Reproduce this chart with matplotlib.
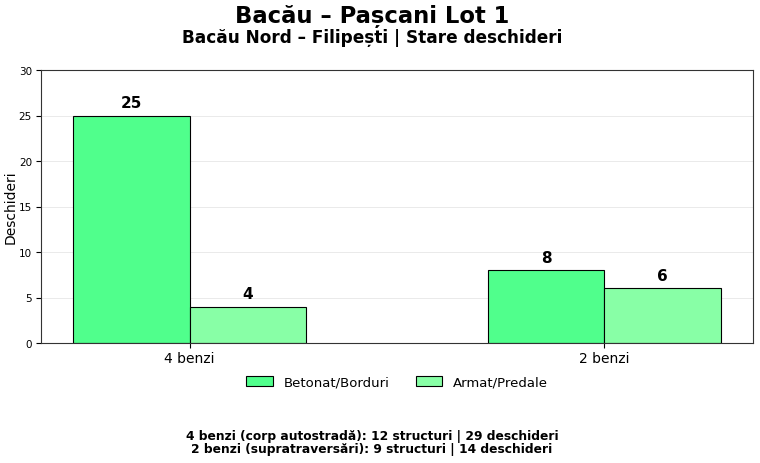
import matplotlib
matplotlib.use("Agg")
import matplotlib.pyplot as plt
import numpy as np

categories = ["4 benzi", "2 benzi"]
series_names = ["Betonat/Borduri", "Armat/Predale"]
betonat = [25, 8]
armat = [4, 6]
colors = ["#50FF8C", "#88FFA6"]
title = "Bacău – Pașcani Lot 1"
subtitle = "Bacău Nord – Filipești | Stare deschideri"
footer = ["4 benzi (corp autostradă): 12 structuri | 29 deschideri",
          "2 benzi (supratraversări): 9 structuri | 14 deschideri"]

fig = plt.figure(figsize=(7.6, 4.64), dpi=100)
ax = fig.add_axes([41/760, 1-344/464, (753-41)/760, (344-71)/464])

x = np.arange(len(categories))
w = 0.28
b1 = ax.bar(x - w/2, betonat, w, color=colors[0], edgecolor="black", linewidth=0.8, label=series_names[0])
b2 = ax.bar(x + w/2, armat, w, color=colors[1], edgecolor="black", linewidth=0.8, label=series_names[1])
for bars, vals in [(b1, betonat), (b2, armat)]:
    for r, v in zip(bars, vals):
        ax.text(r.get_x() + r.get_width()/2, v + 0.6, str(v), ha="center", va="bottom",
                fontsize=11, fontweight="bold")

ax.set_ylim(0, 30)
ax.set_yticks(range(0, 31, 5))
ax.set_xticks(x)
ax.set_xticklabels(categories, fontsize=10)
ax.tick_params(axis="y", labelsize=7.5, pad=3)
ax.tick_params(axis="x", pad=2.5)
ax.set_ylabel("Deschideri", fontsize=10)
ax.yaxis.set_label_coords((18-41)/712, 0.5)
ax.yaxis.grid(True, color="#e6e6e6", linestyle="-", linewidth=0.6)
ax.set_axisbelow(True)
for s in ax.spines.values():
    s.set_color("#333333")

ax.legend(loc="center", bbox_to_anchor=(0.5, (344-383)/273), ncol=2, frameon=False, fontsize=9.5,
          handlelength=2.0, columnspacing=2.0)

cx = 372/760
fig.text(cx, 1-17/464, title, ha="center", va="center", fontsize=16.3, fontweight="bold")
fig.text(cx, 1-38/464, subtitle, ha="center", va="center", fontsize=12.2, fontweight="bold")
fig.text(cx, 1-443/464, "\n".join(footer), ha="center", va="center", fontsize=8.8,
         fontweight="bold", linespacing=1.0)

fig.savefig("out.png", dpi=100)
